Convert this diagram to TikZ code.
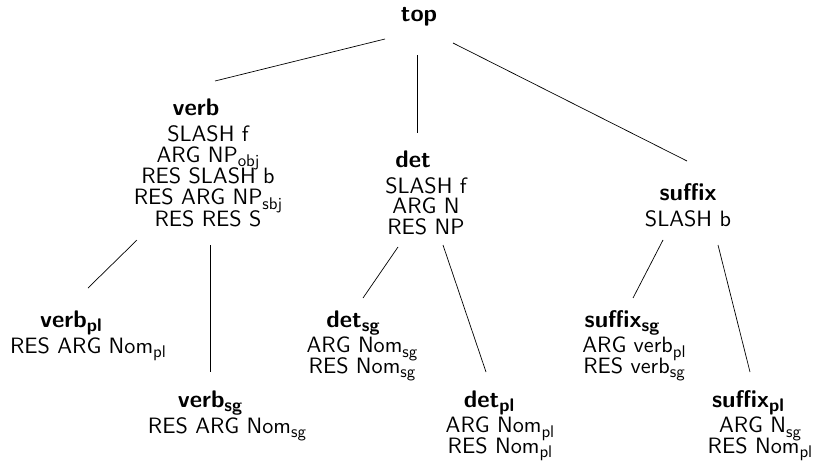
\documentclass[tikz,border=0pt]{standalone}
\usepackage{fontspec}
\setsansfont{lmsans10-regular.otf}[BoldFont=lmsans10-bold.otf]
\tikzset{
  ttl/.style={anchor=base,inner sep=0pt,font=\fontsize{24}{20.5}\selectfont\sffamily\bfseries},
  bdy/.style={anchor=north,inner sep=0pt,align=center,font={\fontsize{22.2}{20.5}\selectfont\sffamily\lineskiplimit=-30pt\relax}},
  bdywide/.style={bdy,font={\fontsize{22.2}{21.25}\selectfont\sffamily\lineskiplimit=-30pt\relax}},
  conn/.style={line width=0.7pt}
}
\makeatletter
\newcommand{\subtx}[1]{\raisebox{-0.2em}{\fontsize{\strip@pt\dimexpr0.76\dimexpr\f@size pt\relax\relax}{0}\selectfont #1}}
\makeatother
\begin{document}
\begin{tikzpicture}[x=1pt,y=-1pt]
\useasboundingbox (0,0) rectangle (813,463);
% titles
\node[ttl] (top) at (419,21) {top};
\node[ttl] (verb) at (196,115) {verb};
\node[ttl] (det) at (413,167) {det};
\node[ttl] (suffix) at (688,200) {suffix};
\node[ttl] (verbpl) at (71,327) {verb\subtx{pl}};
\node[ttl] (verbsg) at (210,407) {verb\subtx{sg}};
\node[ttl] (detsg) at (353,327) {det\subtx{sg}};
\node[ttl] (detpl) at (489,407) {det\subtx{pl}};
\node[ttl] (suffixsg) at (622,327) {suffix\subtx{sg}};
\node[ttl] (suffixpl) at (748,407) {suffix\subtx{pl}};
% bodies
\node[bdywide] (verbb) at (208,125) {SLASH f\\ARG NP\subtx{obj}\\RES SLASH b\\RES ARG NP\subtx{sbj}\\RES RES S};
\node[bdy] (detb) at (426,177) {SLASH f\\ARG N\\RES NP};
\node[bdy] (suffixb) at (688,210) {SLASH b};
\node[bdy] (verbplb) at (88,337) {RES ARG Nom\subtx{pl}};
\node[bdy] (verbsgb) at (227,417) {RES ARG Nom\subtx{sg}};
\node[bdy] (detsgb) at (362,337) {ARG Nom\subtx{sg}\\RES Nom\subtx{sg}};
\node[bdy] (detplb) at (500,417) {ARG Nom\subtx{pl}\\RES Nom\subtx{pl}};
\node[bdy] (suffixsgb) at (634,337) {ARG verb\subtx{pl}\\RES verb\subtx{sg}};
\node[bdy] (suffixplb) at (760,417) {ARG N\subtx{sg}\\RES Nom\subtx{pl}};
% edge ends
\coordinate (e1a) at (385,39);  \coordinate (e1b) at (215,81);
\coordinate (e2a) at (417,55);  \coordinate (e2b) at (417,133);
\coordinate (e3a) at (453,43);  \coordinate (e3b) at (687,161);
\coordinate (e4a) at (137,240); \coordinate (e4b) at (88,288);
\coordinate (e5a) at (210,245); \coordinate (e5b) at (210,372);
\coordinate (e6a) at (398,247); \coordinate (e6b) at (363,298);
\coordinate (e7a) at (443,245); \coordinate (e7b) at (486,372);
\coordinate (e8a) at (663,240); \coordinate (e8b) at (633,298);
\coordinate (e9a) at (718,245); \coordinate (e9b) at (750,372);
\foreach \i in {1,...,9} {\draw[conn] (e\i a) -- (e\i b);}
\end{tikzpicture}
\end{document}
